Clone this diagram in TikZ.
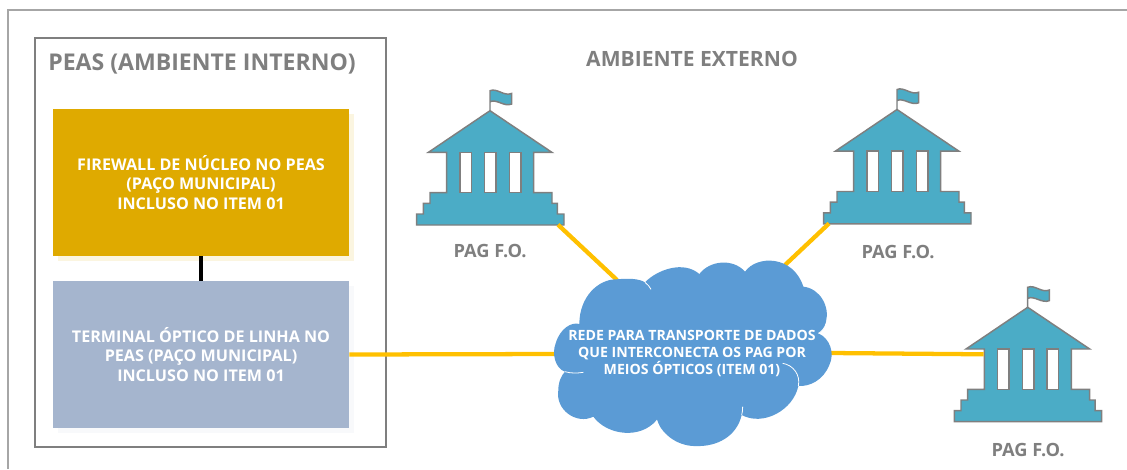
\documentclass[tikz,border=0pt]{standalone}
\usepackage{fontspec}
\setmainfont{Open Sans}
\usetikzlibrary{shadows}
\definecolor{cinza}{HTML}{7F7F7F}
\definecolor{ouro}{HTML}{DFAA00}
\definecolor{azulc}{HTML}{A5B5CE}
\definecolor{predioc}{HTML}{4BACC6}
\definecolor{nuvem}{HTML}{5B9BD5}
\definecolor{fio}{HTML}{FFC000}
\tikzset{
	caixa/.style={rectangle, minimum width=222pt, minimum height=110.25pt, inner sep=0pt, align=center, text=white, font=\fontsize{12.1pt}{14.5pt}\selectfont\bfseries},
	titulo/.style={text=cinza, inner sep=0pt, font=\fontsize{17.3pt}{20pt}\selectfont\bfseries},
	rotulo/.style={text=cinza, inner sep=0pt, font=\fontsize{13.7pt}{16pt}\selectfont\bfseries},
	ligacao/.style={color=fio, line width=3.2pt},
	predio/.pic={
		\draw[cinza, fill=predioc, line width=1.1pt] (0,0) -- (0,-20) .. controls (7,-23) and (14,-14) .. (21.7,-17.3) -- (21.7,-6.7) .. controls (14,-3.5) and (7,-12) .. (0,-9);
		\draw[cinza, fill=predioc, line width=1.1pt] (0,0) -- (62,41.7) -- (43.7,41.7) -- (43.7,82) -- (62,82) -- (62,92.7) -- (67.3,92.7) -- (67.3,103.3) -- (74,103.3) -- (74,114.3) -- (-73.3,114.3) -- (-73.3,103.3) -- (-66.7,103.3) -- (-66.7,92.7) -- (-60,92.7) -- (-60,82) -- (-43.3,82) -- (-43.3,41.7) -- (-61.7,41.7) -- cycle;
		\foreach \janela in {-30,-5.3,19.3}
			\draw[cinza, fill=white, line width=1.1pt] (\janela,41.7) rectangle ++(11.5,40.3);
		\coordinate (-se) at (68,114);
		\coordinate (-sw) at (-68,114);
		\coordinate (-w) at (-44,47);
	}
}
\begin{document}
\begin{tikzpicture}[x=0.75pt, y=-0.75pt]
	\useasboundingbox (0,0) rectangle (1127,469);
	\draw[color=black!35, line width=0.9pt] (8,469) -- (8,10) -- (1127,10);
	\draw[color=cinza, line width=0.9pt] (35,38) rectangle (386,447);
	\node[titulo](peas) at (202,64){PEAS (AMBIENTE INTERNO)};
	\node[titulo, font=\fontsize{15.8pt}{18pt}\selectfont\bfseries](externo) at (692,59){AMBIENTE EXTERNO};

	\coordinate (rede-a) at (617,280);
	\coordinate (rede-b) at (785,265);
	\coordinate (rede-c) at (556,354);
	\coordinate (rede-d) at (831,353);

	\node[caixa, fill=ouro, drop shadow={shadow xshift=3.5pt, shadow yshift=-3.5pt, fill=ouro!12, opacity=1}](firewall) at (201,182.5){FIREWALL DE NÚCLEO NO PEAS\\(PAÇO MUNICIPAL)\\INCLUSO NO ITEM 01};
	\node[caixa, fill=azulc, drop shadow={shadow xshift=3.5pt, shadow yshift=-3.5pt, fill=azulc!8, opacity=1}](terminal) at (201,354.5){TERMINAL ÓPTICO DE LINHA NO\\PEAS (PAÇO MUNICIPAL)\\INCLUSO NO ITEM 01};
	\draw[line width=3.7pt, black] (firewall.south) -- (terminal.north);

	\pic (pagone) at (490,110.7) {predio};
	\pic (pagtwo) at (897,109.5) {predio};
	\pic (pagthree) at (1027.7,307.3) {predio};
	\node[rotulo](labelone) at (490,251){PAG F.O.};
	\node[rotulo](labeltwo) at (898,252){PAG F.O.};
	\node[rotulo](labelthree) at (1028,450){PAG F.O.};

	\draw[ligacao] (pagone-se) -- (rede-a);
	\draw[ligacao] (pagtwo-sw) -- (rede-b);
	\draw[ligacao] (terminal.east) -- (rede-c);
	\draw[ligacao] (rede-d) -- (pagthree-w);

	\begin{scope}[shift={(540,250)}, x=0.25pt, y=-0.25pt]
		\fill[nuvem] (118,222) .. controls (118,140) and (175,88) .. (228,88) .. controls (265,85) and (295,85) .. (315,97)
			.. controls (350,60) and (430,30) .. (478,72) .. controls (510,30) and (580,25) .. (615,65)
			.. controls (650,15) and (760,15) .. (790,110) .. controls (840,115) and (870,170) .. (858,215)
			.. controls (855,235) and (845,245) .. (835,250) .. controls (870,265) and (885,310) .. (868,345)
			.. controls (850,390) and (810,410) .. (775,408) .. controls (760,480) and (670,530) .. (605,495)
			.. controls (590,560) and (530,590) .. (470,588) .. controls (420,590) and (370,560) .. (350,510)
			.. controls (300,570) and (200,555) .. (160,500) .. controls (110,525) and (45,480) .. (55,420)
			.. controls (55,395) and (65,375) .. (75,365) .. controls (45,355) and (35,310) .. (47,280)
			.. controls (60,235) and (95,215) .. (118,222) -- cycle;
		\draw[white, line width=0.6pt] (315,97) .. controls (323,103) and (329,110) .. (333,118);
		\draw[white, line width=0.6pt] (835,250) .. controls (845,245) and (853,235) .. (858,222);
		\draw[white, line width=0.6pt] (728,340) .. controls (760,345) and (782,375) .. (775,408);
		\draw[white, line width=0.6pt] (605,495) .. controls (607,487) and (608,480) .. (608,470);
		\draw[white, line width=0.6pt] (350,510) .. controls (352,517) and (355,524) .. (358,530);
		\draw[white, line width=0.6pt] (75,365) .. controls (92,370) and (110,370) .. (130,367);
	\end{scope}
	\node[rotulo, align=center, text=white, font=\fontsize{10.6pt}{13.1pt}\selectfont\bfseries](rede) at (692,353.5){REDE PARA TRANSPORTE DE DADOS\\QUE INTERCONECTA OS PAG POR\\MEIOS ÓPTICOS (ITEM 01)};
\end{tikzpicture}
\end{document}
